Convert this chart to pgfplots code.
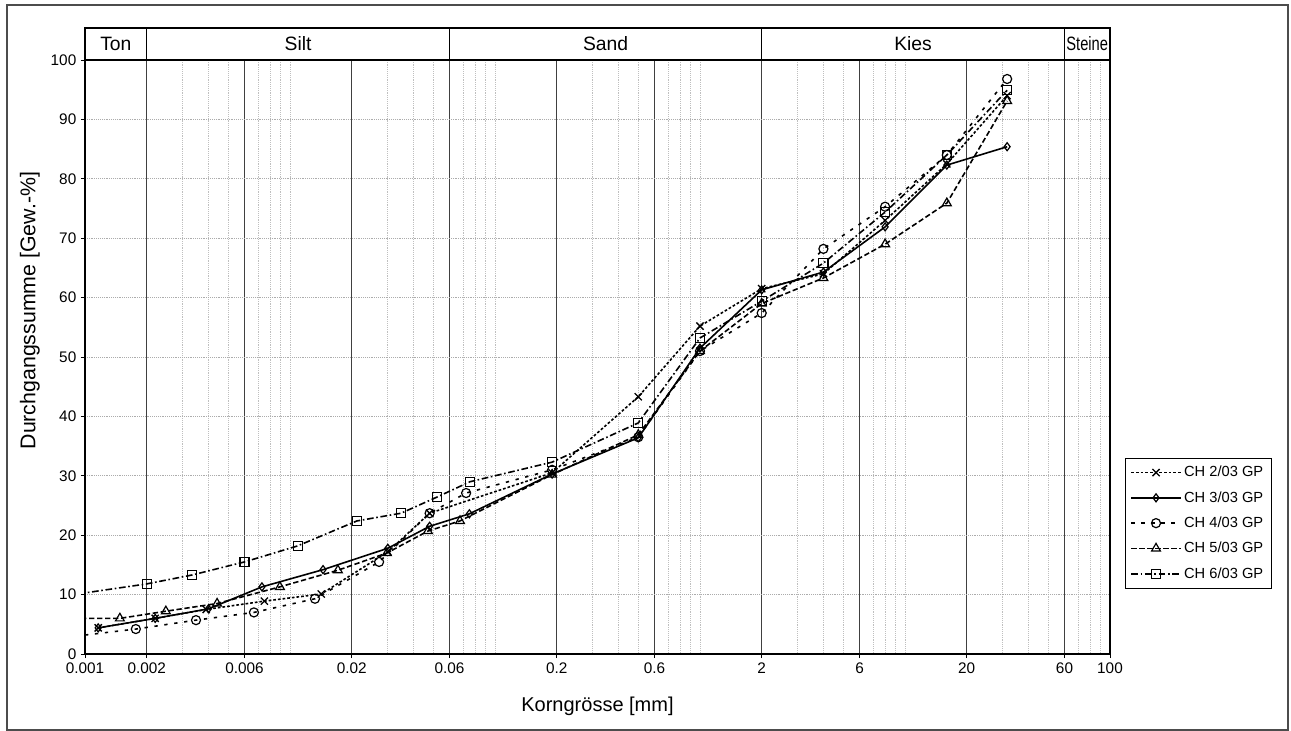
\documentclass[border=0pt]{standalone}
\usepackage{fontspec}
\setmainfont{Liberation Sans}
\usepackage{pgfplots}
\usepackage{pgfplotstable}
\pgfplotsset{compat=1.18}

\pgfplotstableread{
x y
0.00116 4.4
0.0022 6.0
0.0039 7.5
0.0075 8.9
0.0142 10.1
0.030 17.2
0.048 23.7
0.19 30.5
0.5 43.3
1.0 55.2
2.0 61.5
4.0 64.0
8.0 73.0
16 82.5
31.5 94.0
}\chA
\pgfplotstableread{
x y
0.00116 4.4
0.0022 6.0
0.0040 7.6
0.0073 11.3
0.0145 14.2
0.030 17.8
0.048 21.5
0.075 23.6
0.19 30.3
0.5 36.4
1.0 51.5
2.0 61.3
4.0 64.3
8.0 71.9
16 82.3
31.5 85.4
}\chB
\pgfplotstableread{
x y
0.0008 2.8
0.00177 4.2
0.00348 5.7
0.00667 7.0
0.01324 9.3
0.0272 15.5
0.048 23.7
0.0723 27.1
0.19 31.0
0.5 36.5
1.0 51.0
2.0 57.4
4.0 68.2
8.0 75.3
16 84.0
31.5 96.8
}\chC
\pgfplotstableread{
x y
0.0008 6.0
0.00148 6.0
0.00248 7.2
0.00441 8.5
0.00893 11.3
0.01713 14.1
0.0297 17.0
0.0471 20.7
0.0675 22.4
0.19 30.2
0.5 36.9
1.0 51.0
2.0 59.0
4.0 63.3
8.0 69.0
16 75.9
31.5 93.1
}\chD
\pgfplotstableread{
x y
0.0008 9.8
0.002 11.8
0.00333 13.3
0.006 15.5
0.0109 18.2
0.0212 22.4
0.0348 23.7
0.052 26.4
0.0755 29.0
0.19 32.3
0.5 38.9
1.0 53.2
2.0 59.4
4.0 65.8
8.0 74.4
16 84.0
31.5 94.9
}\chE

\begin{document}
\begin{tikzpicture}
\begin{axis}[
  xmode=log, log basis x=10,
  scale only axis, width=768.75pt, height=445.5pt,
  xmin=0.001, xmax=100, ymin=0, ymax=100,
  clip mode=individual,
  xtick={0.001,0.002,0.006,0.02,0.06,0.2,0.6,2,6,20,60,100},
  xticklabels={0.001,0.002,0.006,0.02,0.06,0.2,0.6,2,6,20,60,100},
  minor xtick={0.003,0.004,0.005,0.007,0.008,0.009,0.01,0.03,0.04,0.05,0.07,0.08,0.09,0.1,0.3,0.4,0.5,0.7,0.8,0.9,1,3,4,5,7,8,9,10,30,40,50,70,80,90},
  ytick={0,10,...,100},
  xtick pos=left, ytick pos=left,
  xmajorgrids, xminorgrids, ymajorgrids,
  major x grid style={black!75, line width=0.8pt},
  minor x grid style={gray!50, densely dotted, line width=0.55pt},
  y grid style={gray!65, densely dotted, line width=0.6pt},
  minor tick length=0pt,
  major tick length=3pt,
  tick align=outside,
  tick style={black, line width=0.6pt},
  axis line style={black, line width=1pt},
  ticklabel style={font=\fontsize{11.5}{13}\selectfont},
  /pgf/number format/assume math mode=true,
  xlabel={Korngrösse [mm]},
  ylabel={Durchgangssumme [Gew.-\%]},
  xlabel style={font=\fontsize{15}{17}\selectfont, yshift=-11pt},
  ylabel style={font=\fontsize{16}{18}\selectfont, at={(axis description cs:-0.0537,0.578)}, anchor=center},
  legend style={at={(1.0146,0.33)}, anchor=north west, draw=black,
    font=\fontsize{11}{13}\selectfont, row sep=5.5pt, inner sep=4pt},
  legend cell align=left,
  legend image code/.code={\draw[mark repeat=2,mark phase=2] plot coordinates {(0cm,0cm) (0.65cm,0cm) (1.3cm,0cm)};},
]
\addplot[black, line width=1.2pt, dash pattern=on 2pt off 1.5pt, mark=x, mark size=3.8pt, mark options={solid, line width=1pt}] table {\chA};
\addlegendentry{CH 2/03 GP}
\addplot[black, line width=1.2pt, solid, mark=diamond, mark size=3pt, mark options={solid, fill=white, line width=0.9pt}] table {\chB};
\addlegendentry{CH 3/03 GP}
\addplot[black, line width=1.2pt, dash pattern=on 2.5pt off 5pt, mark=o, mark size=3.4pt, mark options={solid, fill=white, line width=0.9pt}] table {\chC};
\addlegendentry{CH 4/03 GP}
\addplot[black, line width=1.2pt, dash pattern=on 4pt off 2pt, mark=triangle, mark size=3.8pt, mark options={solid, fill=white, line width=0.9pt}] table {\chD};
\addlegendentry{CH 5/03 GP}
\addplot[black, line width=1.2pt, dash pattern=on 5pt off 2pt on 1.2pt off 2pt, mark=square, mark size=3.4pt, mark options={solid, fill=white, line width=0.9pt}] table {\chE};
\addlegendentry{CH 6/03 GP}

% soil class band
\begin{scope}[line width=1pt, font=\fontsize{14.5}{16}\selectfont]
\draw (axis cs:0.001,100) rectangle (axis cs:0.002,105.4);
\node at (axis cs:0.0014142,102.7) {Ton};
\draw (axis cs:0.002,100) rectangle (axis cs:0.06,105.4);
\node at (axis cs:0.010954,102.7) {Silt};
\draw (axis cs:0.06,100) rectangle (axis cs:2,105.4);
\node at (axis cs:0.34641,102.7) {Sand};
\draw (axis cs:2,100) rectangle (axis cs:60,105.4);
\node at (axis cs:10.954,102.7) {Kies};
\draw (axis cs:60,100) rectangle (axis cs:100,105.4);
\node at (axis cs:77.46,102.7) {\scalebox{0.76}[1]{Steine}};
\end{scope}
\end{axis}
% outer frame and page extent
\path ([xshift=-63.75pt,yshift=-57.75pt]current axis.south west) rectangle ([xshift=135.75pt,yshift=45pt]current axis.north east);
\draw[black!70, line width=0.8pt] ([xshift=-58.5pt,yshift=-57pt]current axis.south west) rectangle ([xshift=133.5pt,yshift=41.25pt]current axis.north east);
\end{tikzpicture}
\end{document}
